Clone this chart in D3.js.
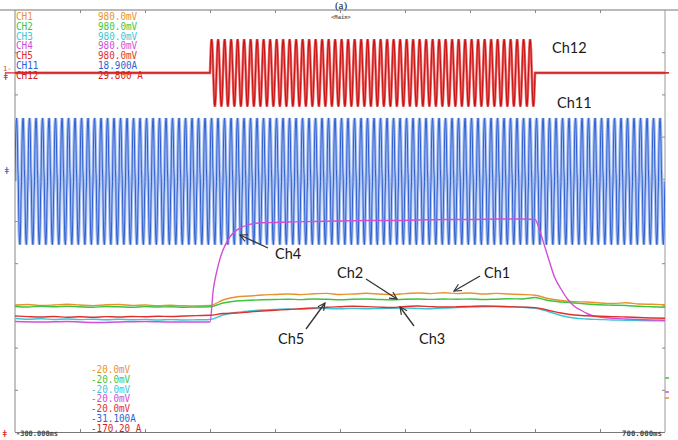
<!DOCTYPE html>
<html><head><meta charset="utf-8">
<script src="https://cdn.jsdelivr.net/npm/d3@7"></script>
<style>body{margin:0;background:#fff;} svg{display:block;}</style>
</head><body><svg id="c" width="678" height="440"></svg>
<script>
// ---------- DATA ----------
const channelNames = ["CH1","CH2","CH3","CH4","CH5","CH11","CH12"];
const channelColors = ["#e8922e","#3ec43e","#3cc6d6","#d24ed6","#e0302e","#2e5fd2","#d81c1c"];
const topScaleLabels = ["980.0mV","980.0mV","980.0mV","980.0mV","980.0mV","18.900A","29.800 A"];
const bottomScaleLabels = ["-20.0mV","-20.0mV","-20.0mV","-20.0mV","-20.0mV","-31.100A","-170.20 A"];
const timeLabels = ["-300.000ms","700.000ms"];
const timeRangeMs = [-300,700];
const mvRange = [-20,980];
const ch11RangeA = [-31.1,18.9];
const ch12RangeA = [-170.2,29.8];

const slowTimes = [-300,-280,-260,-240,-220,-200,-180,-160,-140,-120,-100,-80,-60,-40,-20,0,
 20,40,60,80,100,120,140,160,180,200,220,240,260,280,300,320,340,360,380,400,420,440,460,480,500,
 520,540,560,580,600,620,640,660,680,700];
const ch1 = [280.9,282.1,279.7,280.9,282.8,280.9,279.5,281.4,282.1,280.0,280.9,279.0,280.2,279.0,278.6,279.7,
 292.8,299.9,302.3,304.6,305.8,307.0,305.6,307.5,308.4,305.8,307.0,308.7,307.0,305.6,308.0,309.4,307.9,310.1,308.0,309.4,307.0,308.4,307.0,305.8,304.2,
 296.3,291.6,288.8,288.1,285.7,284.5,286.2,283.3,282.6,281.6];
const ch2 = [277.4,276.2,277.9,276.7,278.1,276.7,275.7,277.4,276.7,275.5,277.1,276.2,276.7,275.7,276.2,276.7,
 285.7,290.4,292.1,293.3,294.0,294.7,293.7,295.2,294.5,293.3,294.7,295.2,294.0,293.3,294.7,295.2,294.2,295.2,294.5,295.2,294.0,294.7,295.6,295.2,298.7,
 291.6,288.1,285.7,283.3,281.4,280.5,279.7,277.9,276.7,275.5];
const ch3 = [249.0,247.3,248.3,246.6,247.8,246.3,247.3,245.9,247.1,245.9,246.8,245.4,246.3,245.4,245.9,246.6,
 257.2,263.2,266.7,269.1,270.3,271.5,271.0,272.4,272.4,271.9,272.9,271.9,272.6,273.4,273.8,272.6,272.1,273.8,274.8,276.0,276.7,277.0,276.2,275.7,273.4,
 265.6,256.1,250.1,247.8,246.6,245.4,244.9,244.0,243.5,243.0];
const ch5 = [254.9,253.5,252.5,253.7,252.0,253.0,251.8,253.5,252.5,253.7,253.0,254.2,253.7,254.9,255.8,256.5,
 260.8,262.0,264.4,266.7,268.6,270.3,272.4,273.8,275.7,276.9,278.1,277.1,276.0,275.2,277.4,278.6,277.1,276.2,276.7,277.6,278.6,278.1,277.1,276.0,274.8,
 268.6,262.0,257.2,255.3,254.2,253.5,252.5,251.3,250.1,249.4];
const ch4Times = [-300,-260,-220,-180,-140,-100,-60,-20,0,5,10,15,20,30,40,50,60,80,100,120,160,200,240,280,320,360,400,440,480,500,
 505,510,520,530,540,550,560,570,580,590,600,620,640,660,680,700];
const ch4 = [241.8,240.7,241.8,239.5,240.7,241.8,240.7,240.7,240.7,316.5,357.7,388.5,411.3,440.9,457.2,466.3,471.5,475.7,476.4,477.6,478.8,480.0,481.2,481.2,482.4,483.5,483.5,484.7,484.7,483.5,
 468.2,444.4,394.7,347.3,318.9,295.2,278.6,269.1,260.8,254.9,252.5,249.4,247.8,246.6,245.4,244.7];

// Ch11: one sampled cycle (normalised), repeated over the record
const ch11Cycle = [0,0.5,0.82,0.96,1,0.9,0.62,0.2,0.04,-0.4,-0.78,-0.95,-1,-0.9,-0.62,-0.2];
const ch11AmpA = 7.5, ch11OffsetA = -1.4, ch11PeriodMs = 10, ch11StartMs = -300;
// Ch12: burst of a sine cycle between start and end
const ch12Cycle = [0,0.38,0.71,0.92,1,0.92,0.71,0.38,0,-0.38,-0.71,-0.92,-1,-0.92,-0.71,-0.38];
const ch12AmpA = 16, ch12PeriodMs = 10, ch12BurstMs = [0,500];

const annotations = [
 {text:"Ch12", tx:552, ty:53},
 {text:"Ch11", tx:557, ty:108},
 {text:"Ch4", tx:275, ty:259, from:[268,248], to:[240,235]},
 {text:"Ch2", tx:337, ty:278, from:[366,279], to:[397,299]},
 {text:"Ch1", tx:484, ty:278, from:[480,276], to:[454,291]},
 {text:"Ch5", tx:278, ty:344, from:[306,329], to:[325,303]},
 {text:"Ch3", tx:419, ty:344, from:[414,326], to:[400,307]}
];

// ---------- SCALES ----------
const svg = d3.select("#c");
const x = d3.scaleLinear().domain(timeRangeMs).range([15,665]);
const yMv = d3.scaleLinear().domain(mvRange).range([432,10]);
const y11 = d3.scaleLinear().domain(ch11RangeA).range([432,10]);
const y12 = d3.scaleLinear().domain(ch12RangeA).range([432,10]);

svg.append("rect").attr("width",678).attr("height",440).attr("fill","#fff");

const defs = svg.append("defs");
defs.append("clipPath").attr("id","clip").append("rect").attr("x",15).attr("y",10).attr("width",650).attr("height",422);
defs.append("marker").attr("id","arr").attr("viewBox","0 0 10 10").attr("refX",9).attr("refY",5)
 .attr("markerWidth",9).attr("markerHeight",9).attr("orient","auto-start-reverse").attr("markerUnits","userSpaceOnUse")
 .append("path").attr("d","M1,1 L9,5 L1,9").attr("fill","none").attr("stroke","#333").attr("stroke-width",1.3);

// ---------- FRAME ----------
const frame = svg.append("g");
frame.append("line").attr("x1",0).attr("x2",678).attr("y1",10).attr("y2",10).attr("stroke","#777").attr("stroke-width",1.2);
frame.append("line").attr("x1",15).attr("x2",15).attr("y1",10).attr("y2",432).attr("stroke","#888");
frame.append("line").attr("x1",665).attr("x2",665).attr("y1",10).attr("y2",432).attr("stroke","#999");
frame.append("line").attr("x1",15).attr("x2",665).attr("y1",432.5).attr("y2",432.5).attr("stroke","#777");

const xDivs = d3.range(timeRangeMs[0]+100, timeRangeMs[1], 100);
const yDivs = d3.range(mvRange[0]+100, mvRange[1], 100);
function cleanAxis(g){ g.select(".domain").remove(); g.selectAll("line").attr("stroke","#888"); g.selectAll("text").remove(); }
svg.append("g").attr("transform","translate(0,10)").call(d3.axisBottom(x).tickValues(xDivs).tickSize(3)).call(cleanAxis);
svg.append("g").attr("transform","translate(0,432)").call(d3.axisTop(x).tickValues(xDivs).tickSize(3)).call(cleanAxis);
svg.append("g").attr("transform","translate(15,0)").call(d3.axisRight(yMv).tickValues(yDivs).tickSize(3)).call(cleanAxis);
svg.append("g").attr("transform","translate(665,0)").call(d3.axisLeft(yMv).tickValues(yDivs).tickSize(3)).call(cleanAxis);

// ---------- WAVEFORMS ----------
const plot = svg.append("g").attr("clip-path","url(#clip)");

// Ch11
const ch11Pts = [];
const n11 = Math.round((timeRangeMs[1]-ch11StartMs)/ch11PeriodMs);
for(let k=0;k<n11;k++) ch11Cycle.forEach((v,j)=>ch11Pts.push([ch11StartMs+(k+j/ch11Cycle.length)*ch11PeriodMs, ch11OffsetA+ch11AmpA*v]));
ch11Pts.push([timeRangeMs[1], ch11OffsetA+ch11AmpA*ch11Cycle[0]]);
const line11 = d3.line().x(d=>x(d[0])).y(d=>y11(d[1]));
plot.append("path").datum(ch11Pts).attr("d", line11)
 .attr("fill","none").attr("stroke","#a9c0f0").attr("stroke-width",3.2);
plot.append("path").datum(ch11Pts).attr("d", line11)
 .attr("fill","none").attr("stroke",channelColors[5]).attr("stroke-width",1);

// Ch12
const ch12Pts = [[timeRangeMs[0],0],[ch12BurstMs[0],0]];
const n12 = Math.round((ch12BurstMs[1]-ch12BurstMs[0])/ch12PeriodMs);
for(let k=0;k<n12;k++) ch12Cycle.forEach((v,j)=>ch12Pts.push([ch12BurstMs[0]+(k+j/ch12Cycle.length)*ch12PeriodMs, ch12AmpA*v]));
ch12Pts.push([ch12BurstMs[1],0],[timeRangeMs[1],0]);
const line12 = d3.line().x(d=>x(d[0])).y(d=>y12(d[1]));
plot.append("path").datum(ch12Pts).attr("d", line12)
 .attr("fill","none").attr("stroke","#ec6a6a").attr("stroke-width",2.6);
plot.append("path").datum(ch12Pts).attr("d", line12)
 .attr("fill","none").attr("stroke","#c81414").attr("stroke-width",1.1);
// zero-level extension outside frame
svg.append("line").attr("x1",5).attr("x2",15).attr("y1",y12(0)).attr("y2",y12(0)).attr("stroke",channelColors[6]).attr("stroke-width",1.2);
svg.append("line").attr("x1",665).attr("x2",669).attr("y1",y12(0)).attr("y2",y12(0)).attr("stroke",channelColors[6]).attr("stroke-width",1.6);

// slow channels
const slowLine = d3.line().curve(d3.curveMonotoneX).x(d=>x(d[0])).y(d=>yMv(d[1]));
const slow = [
 {t:slowTimes, v:ch1, c:channelColors[0]},
 {t:slowTimes, v:ch2, c:channelColors[1]},
 {t:slowTimes, v:ch3, c:channelColors[2]},
 {t:ch4Times, v:ch4, c:channelColors[3]},
 {t:slowTimes, v:ch5, c:channelColors[4]}
];
slow.forEach(s=>{
 plot.append("path").datum(s.t.map((t,i)=>[t,s.v[i]]))
  .attr("d",slowLine).attr("fill","none").attr("stroke",s.c).attr("stroke-width",1.4);
});

// ---------- TEXT ----------
const mono = "'DejaVu Sans Mono', monospace";
const CW = 5.6;
channelNames.forEach((n,i)=>{
 const yy = 16.5 + i*9.75 + 3.5;
 svg.append("text").attr("x",16).attr("y",yy).text(n)
  .attr("font-family",mono).attr("font-size",10).attr("fill",channelColors[i])
  .attr("textLength",n.length*CW).attr("lengthAdjust","spacingAndGlyphs");
 const t = topScaleLabels[i];
 svg.append("text").attr("x",98).attr("y",yy).text(t)
  .attr("font-family",mono).attr("font-size",10).attr("fill",channelColors[i])
  .attr("textLength",t.length*CW).attr("lengthAdjust","spacingAndGlyphs");
 const b = bottomScaleLabels[i];
 const yb = 369.5 + i*9.75 + 3.5;
 svg.append("text").attr("x",91).attr("y",yb).text(b)
  .attr("font-family",mono).attr("font-size",10).attr("fill",channelColors[i])
  .attr("textLength",b.length*CW).attr("lengthAdjust","spacingAndGlyphs");
});
svg.append("text").attr("x",16).attr("y",436).text(timeLabels[0])
 .attr("font-family",mono).attr("font-size",7.5).attr("font-weight","bold").attr("fill","#444")
 .attr("textLength",42).attr("lengthAdjust","spacingAndGlyphs");
svg.append("text").attr("x",662).attr("y",436).attr("text-anchor","end").text(timeLabels[1])
 .attr("font-family",mono).attr("font-size",7.5).attr("font-weight","bold").attr("fill","#444")
 .attr("textLength",40).attr("lengthAdjust","spacingAndGlyphs");

svg.append("text").attr("x",341).attr("y",8.5).attr("text-anchor","middle").text("(a)")
 .attr("font-family","'Liberation Serif', serif").attr("font-size",11).attr("fill","#222");
svg.append("text").attr("x",341).attr("y",19).attr("text-anchor","middle").text("<Main>")
 .attr("font-family",mono).attr("font-size",5.5).attr("font-weight","bold").attr("fill","#666");

// side markers
svg.append("text").attr("x",3).attr("y",71).text("1-").attr("font-family",mono).attr("font-size",7).attr("fill","#d8401c");
svg.append("text").attr("x",3).attr("y",80).text("ǂ").attr("font-family",mono).attr("font-size",9).attr("fill",channelColors[6]);
svg.append("text").attr("x",4).attr("y",y11(0)+4).text("ǂ").attr("font-family",mono).attr("font-size",9).attr("fill",channelColors[5]);
svg.append("text").attr("x",2).attr("y",437).text("ǂ").attr("font-family",mono).attr("font-size",9).attr("fill",channelColors[6]);
[[378,channelColors[1]],[392,channelColors[3]],[398,channelColors[0]]].forEach(m=>{
 svg.append("line").attr("x1",665).attr("x2",669).attr("y1",m[0]).attr("y2",m[0]).attr("stroke",m[1]).attr("stroke-width",1.5);
});

// annotations
annotations.forEach(a=>{
 svg.append("text").attr("x",a.tx).attr("y",a.ty).text(a.text)
  .attr("font-family","Lato, 'Open Sans', sans-serif").attr("font-size",14.5).attr("fill","#1a1a1a");
 if(a.from){
  svg.append("line").attr("x1",a.from[0]).attr("y1",a.from[1]).attr("x2",a.to[0]).attr("y2",a.to[1])
   .attr("stroke","#333").attr("stroke-width",1.3).attr("marker-end","url(#arr)");
 }
});
</script></body></html>
